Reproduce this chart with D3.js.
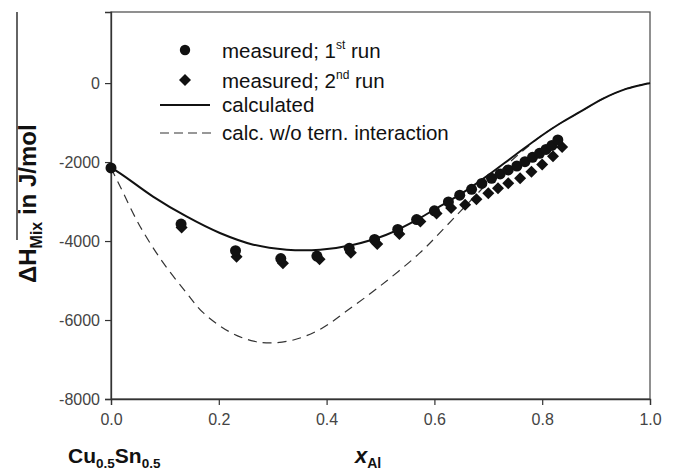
<!DOCTYPE html>
<html>
<head>
<meta charset="utf-8">
<script src="https://cdn.jsdelivr.net/npm/d3@7"></script>
<style>
  body { margin: 0; background: #fff; }
  svg { font-family: Arial, "Liberation Sans", sans-serif; }
</style>
</head>
<body>
<div id="chart"></div>
<script>
// measured, 1st run (circles)
const run1X = [0.0, 0.130, 0.231, 0.315, 0.382, 0.442, 0.489, 0.532, 0.567, 0.600, 0.626, 0.647,
  0.669, 0.688, 0.706, 0.722, 0.737, 0.753, 0.768, 0.782, 0.795, 0.807, 0.818, 0.829];
const run1Y = [-2150, -3570, -4245, -4445, -4380, -4185, -3960, -3705, -3455, -3235, -3010, -2840,
  -2690, -2540, -2410, -2300, -2200, -2100, -1990, -1880, -1780, -1680, -1580, -1440];

// measured, 2nd run (diamonds)
const run2X = [0.131, 0.233, 0.319, 0.387, 0.445, 0.494, 0.535, 0.574, 0.604, 0.631, 0.657,
  0.678, 0.700, 0.718, 0.737, 0.759, 0.780, 0.800, 0.820, 0.837];
const run2Y = [-3655, -4396, -4564, -4463, -4295, -4076, -3823, -3503, -3301, -3166, -3083,
  -2940, -2789, -2662, -2536, -2410, -2244, -2060, -1850, -1620];

// calculated (solid)
const calcX = [0.0, 0.017, 0.078, 0.14, 0.202, 0.264, 0.326, 0.388, 0.45, 0.511, 0.573, 0.6,
  0.65, 0.7, 0.75, 0.8, 0.833, 0.87, 0.913, 0.957, 1.0];
const calcY = [-2150, -2285, -2874, -3378, -3797, -4092, -4218, -4218, -4092, -3840, -3419, -3200,
  -2800, -2330, -1820, -1320, -1024, -731, -393, -141, 0];

// calc. w/o ternary interaction (dashed)
const noTernX = [0.0, 0.017, 0.054, 0.097, 0.14, 0.171, 0.22, 0.26, 0.295, 0.34, 0.39, 0.437,
  0.499, 0.573, 0.62, 0.66, 0.7, 0.75, 0.8, 0.833, 0.87, 0.913, 0.957, 1.0];
const noTernY = [-2150, -2620, -3630, -4553, -5310, -5814, -6300, -6520, -6580, -6500, -6220, -5773,
  -5143, -4300, -3650, -3080, -2520, -1880, -1320, -1024, -731, -393, -141, 0];

const xTicks = [0, 0.2, 0.4, 0.6, 0.8, 1.0];
const yTicks = [0, -2000, -4000, -6000, -8000];

const width = 673, height = 471;
const margin = { left: 111, right: 23, top: 12, bottom: 72 };

const svg = d3.select("#chart").append("svg")
    .attr("width", width)
    .attr("height", height);

const x = d3.scaleLinear().domain([0, 1]).range([margin.left, width - margin.right]);
const y = d3.scaleLinear().domain([-8000, 1800]).range([height - margin.bottom, margin.top]);

// frame
svg.append("rect")
    .attr("x", x(0)).attr("y", y(1800))
    .attr("width", x(1) - x(0)).attr("height", y(-8000) - y(1800))
    .attr("fill", "none").attr("stroke", "#555").attr("stroke-width", 1.3);

// axes
const xAxis = svg.append("g")
    .attr("transform", `translate(0,${y(-8000)})`)
    .call(d3.axisBottom(x).tickValues(xTicks).tickFormat(d3.format(".1f")).tickSize(6).tickPadding(9));
const yAxis = svg.append("g")
    .attr("transform", `translate(${x(0)},0)`)
    .call(d3.axisLeft(y).tickValues(yTicks).tickFormat(d => d).tickSize(6).tickPadding(5));

[xAxis, yAxis].forEach(g => {
    g.select(".domain").attr("stroke", "#333").attr("stroke-width", 1.3);
    g.selectAll(".tick line").attr("stroke", "#333").attr("stroke-width", 1.2);
    g.selectAll(".tick text")
        .attr("fill", "#444")
        .style("font-size", "16px")
        .style("font-family", "Arial, 'Liberation Sans', sans-serif");
});

// curves
const toPts = (xs, ys) => xs.map((v, i) => [v, ys[i]]);
const line = d3.line()
    .x(d => x(d[0]))
    .y(d => y(d[1]))
    .curve(d3.curveCatmullRom.alpha(0.5));

svg.append("path")
    .datum(toPts(noTernX, noTernY))
    .attr("d", line)
    .attr("fill", "none")
    .attr("stroke", "#333")
    .attr("stroke-width", 1.2)
    .attr("stroke-dasharray", "9,6");

svg.append("path")
    .datum(toPts(calcX, calcY))
    .attr("d", line)
    .attr("fill", "none")
    .attr("stroke", "#111")
    .attr("stroke-width", 2);

// markers: diamond = rotated square
const diamond = d3.symbol().type(d3.symbolSquare).size(72);
svg.append("g").selectAll("path")
    .data(toPts(run2X, run2Y))
    .enter().append("path")
    .attr("d", diamond)
    .attr("transform", d => `translate(${x(d[0])},${y(d[1])}) rotate(45)`)
    .attr("fill", "#111");

svg.append("g").selectAll("circle")
    .data(toPts(run1X, run1Y))
    .enter().append("circle")
    .attr("cx", d => x(d[0]))
    .attr("cy", d => y(d[1]))
    .attr("r", 5.5)
    .attr("fill", "#111");

// legend
const legend = svg.append("g").style("font-size", "20.5px").attr("fill", "#111");
legend.append("circle").attr("cx", 185).attr("cy", 50).attr("r", 5.2).attr("fill", "#111");
legend.append("path").attr("d", diamond).attr("transform", "translate(185,80) rotate(45)").attr("fill", "#111");
legend.append("line").attr("x1", 160).attr("x2", 210).attr("y1", 105).attr("y2", 105)
    .attr("stroke", "#111").attr("stroke-width", 2);
legend.append("line").attr("x1", 160).attr("x2", 212).attr("y1", 133).attr("y2", 133)
    .attr("stroke", "#333").attr("stroke-width", 1.2).attr("stroke-dasharray", "9,5");

const t1 = legend.append("text").attr("x", 222).attr("y", 58);
t1.append("tspan").text("measured; 1");
t1.append("tspan").attr("dy", -9).style("font-size", "12px").text("st");
t1.append("tspan").attr("dy", 9).text(" run");

const t2 = legend.append("text").attr("x", 222).attr("y", 88);
t2.append("tspan").text("measured; 2");
t2.append("tspan").attr("dy", -9).style("font-size", "12px").text("nd");
t2.append("tspan").attr("dy", 9).text(" run");

legend.append("text").attr("x", 222).attr("y", 112).text("calculated");
legend.append("text").attr("x", 222).attr("y", 140).text("calc. w/o tern. interaction");

// y axis title
const yTitle = svg.append("text")
    .attr("transform", "translate(36,283) rotate(-90)")
    .style("font-size", "24px")
    .style("font-weight", "bold")
    .attr("fill", "#111");
yTitle.append("tspan").text("\u0394H");
yTitle.append("tspan").attr("dy", 6).style("font-size", "16px").text("Mix");
yTitle.append("tspan").attr("dy", -6).text(" in J/mol");

svg.append("line")
    .attr("x1", 17).attr("x2", 17).attr("y1", 12).attr("y2", 240)
    .attr("stroke", "#111").attr("stroke-width", 1.3);

// bottom labels
const cu = svg.append("text")
    .attr("x", 68).attr("y", 463)
    .style("font-size", "21px").style("font-weight", "bold").attr("fill", "#111");
cu.append("tspan").text("Cu");
cu.append("tspan").attr("dy", 5).style("font-size", "13.5px").text("0.5");
cu.append("tspan").attr("dy", -5).text("Sn");
cu.append("tspan").attr("dy", 5).style("font-size", "13.5px").text("0.5");

const xl = svg.append("text")
    .attr("x", 355).attr("y", 463)
    .style("font-size", "22px").style("font-weight", "bold").attr("fill", "#111");
xl.append("tspan").style("font-style", "italic").text("x");
xl.append("tspan").attr("dy", 5).style("font-size", "14px").text("Al");
</script>
</body>
</html>
